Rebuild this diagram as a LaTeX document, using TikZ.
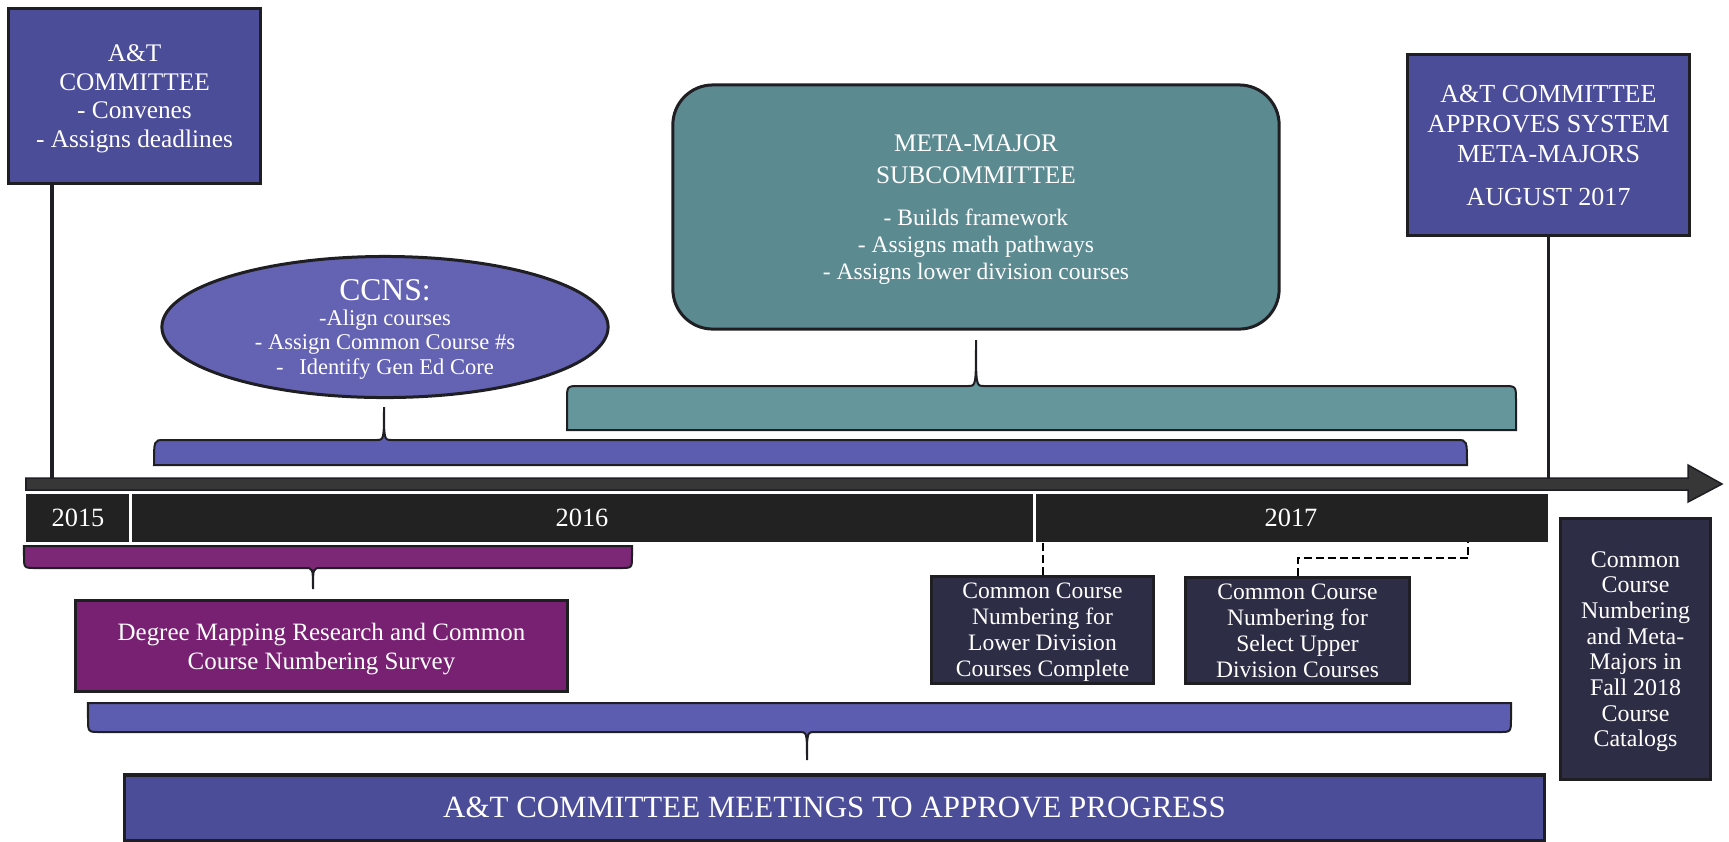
\documentclass[tikz,border=0pt]{standalone}
\usepackage{fontspec}
\setmainfont{Liberation Serif}
\usetikzlibrary{shapes.geometric}
\definecolor{atblue}{RGB}{76,77,152}
\definecolor{ccnsblue}{RGB}{100,98,178}
\definecolor{braceblue}{RGB}{92,93,176}
\definecolor{metateal}{RGB}{92,138,145}
\definecolor{braceteal}{RGB}{100,150,156}
\definecolor{mapplum}{RGB}{120,32,114}
\definecolor{braceplum}{RGB}{124,40,118}
\definecolor{navybox}{RGB}{46,45,70}
\definecolor{yearblack}{RGB}{34,34,34}
\definecolor{axisgrey}{RGB}{55,55,55}
\definecolor{edgecol}{RGB}{30,30,35}
\tikzset{
  box/.style={draw=edgecol, line width=0.03cm, text=white, align=center, inner sep=0pt, text depth=0pt},
  bluebox/.style={box, fill=atblue},
  navy/.style={box, fill=navybox, font=\fontsize{6.7}{7.4}\selectfont},
  yearcell/.style={fill=yearblack, text=white, inner sep=0pt, minimum height=0.48cm, font=\fontsize{7.5}{8}\selectfont},
  bracket/.style={draw=edgecol, line width=0.02cm},
  stem/.style={draw=edgecol, line width=0.03cm},
  dashline/.style={draw=black, line width=0.02cm, dash pattern=on 0.08cm off 0.04cm}
}
\begin{document}
\begin{tikzpicture}[x=0.01cm,y=-0.01cm]
    \useasboundingbox (0,0) rectangle (1729,841);
    \fill[axisgrey,draw=edgecol,line width=0.015cm] (26,478) -- (1688,478) -- (1688,465) -- (1722,484) -- (1688,502) -- (1688,490) -- (26,490) -- cycle;
    \coordinate (axisA) at (52,478);
    \node[yearcell, minimum width=1.04cm] (y2015) at (78,518) {2015};
    \node[yearcell, minimum width=9.04cm] (y2016) at (582,518) {2016};
    \node[yearcell, minimum width=5.14cm] (y2017) at (1291,518) {2017};
    \draw[white, line width=0.03cm] (y2015.north east) -- (y2015.south east);
    \draw[white, line width=0.03cm] (y2016.north east) -- (y2016.south east);
    \draw[bracket, fill=braceblue] (154,465) .. controls (154,440) .. (164,440) -- (376,440) .. controls (384,440) .. (384,407) .. controls (384,440) .. (392,440) -- (1457,440) .. controls (1467,440) .. (1467,465) -- cycle;
    \draw[bracket, fill=braceteal] (567,430) -- (567,400) .. controls (567,386) .. (580,386) -- (968,386) .. controls (976,386) .. (976,340) .. controls (976,386) .. (984,386) -- (1503,386) .. controls (1516,386) .. (1516,400) -- (1516,430) -- cycle;
    \draw[bracket, fill=braceplum] (24,546) -- (24,556) .. controls (24,568) .. (36,568) -- (305,568) .. controls (313,568) .. (313,589) .. controls (313,568) .. (321,568) -- (620,568) .. controls (632,568) .. (632,556) -- (632,546) -- cycle;
    \draw[bracket, fill=braceblue] (88,703) -- (88,718) .. controls (88,732) .. (100,732) -- (799,732) .. controls (807,732) .. (807,760) .. controls (807,732) .. (815,732) -- (1499,732) .. controls (1511,732) .. (1511,718) -- (1511,703) -- cycle;
    \node[bluebox, minimum width=2.51cm, minimum height=1.74cm, text depth=-0.12cm, font=\fontsize{7.2}{8.1}\selectfont] (atc) at (134.5,96) {A\&T\\COMMITTEE\\- Convenes\\- Assigns deadlines};
    \node[bluebox, minimum width=2.81cm, minimum height=1.80cm, text depth=-0.07cm, font=\fontsize{7.4}{8.5}\selectfont] (approve) at (1548.5,145) {A\&T COMMITTEE\\APPROVES SYSTEM\\META-MAJORS\\[3.7pt]AUGUST 2017};
    \node[box, fill=metateal, rounded corners=0.4cm, minimum width=6.06cm, minimum height=2.44cm, font=\fontsize{7.2}{7.7}\selectfont] (meta) at (976,207) {META-MAJOR\\[1.4pt]SUBCOMMITTEE\\[4.3pt]{\fontsize{6.7}{7.7}\selectfont - Builds framework}\\{\fontsize{6.7}{7.7}\selectfont - Assigns math pathways}\\{\fontsize{6.7}{7.7}\selectfont - Assigns lower division courses}};
    \node[box, fill=ccnsblue, ellipse, minimum width=4.46cm, minimum height=1.41cm, font=\fontsize{6.4}{7.1}\selectfont] (ccns) at (385,327) {{\fontsize{9}{9}\selectfont CCNS:}\\-Align courses\\- Assign Common Course \#s\\-\hspace{0.7em}Identify Gen Ed Core};
    \node[box, fill=mapplum, minimum width=4.91cm, minimum height=0.90cm, font=\fontsize{7.1}{8.25}\selectfont] (degree) at (321.5,646) {Degree Mapping Research and Common\\Course Numbering Survey};
    \node[navy, minimum width=2.21cm, minimum height=1.06cm] (ccnlow) at (1042.5,630) {Common Course\\Numbering for\\Lower Division\\Courses Complete};
    \node[navy, minimum width=2.23cm, minimum height=1.05cm] (ccnup) at (1297.5,630.5) {Common Course\\Numbering for\\Select Upper\\Division Courses};
    \node[navy, minimum width=1.49cm, minimum height=2.60cm, font=\fontsize{6.8}{7.3}\selectfont] (catalog) at (1635.5,649) {Common\\Course\\Numbering\\and Meta-\\Majors in\\Fall 2018\\Course\\Catalogs};
    \node[bluebox, minimum width=14.19cm, minimum height=0.65cm, font=\fontsize{8.8}{9}\selectfont] (progress) at (834.5,807.5) {A\&T COMMITTEE MEETINGS TO APPROVE PROGRESS};
    \coordinate (upEnd) at (1468,542);
    \draw[stem] (atc.south -| axisA) -- (axisA);
    \draw[stem] (approve.south) -- (approve.south |- axisA);
    \draw[dashline] (ccnlow.north) -- (ccnlow.north |- y2016.south);
    \draw[dashline] (ccnup.north) -- ++(0,-18) -| (upEnd);
\end{tikzpicture}
\end{document}
